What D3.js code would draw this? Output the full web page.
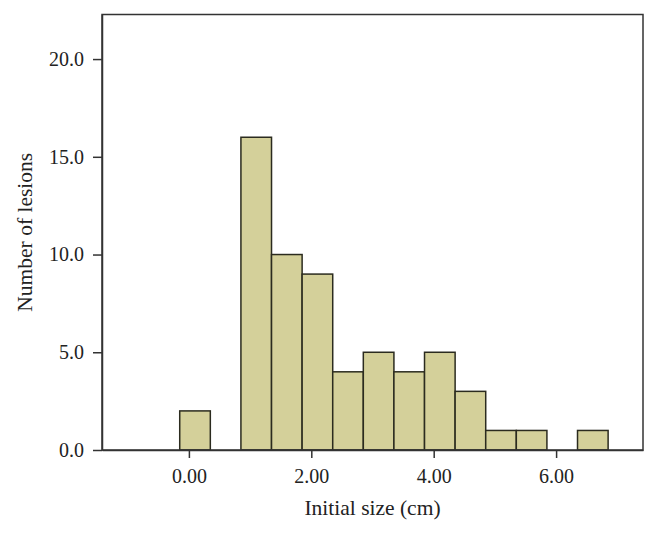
<!DOCTYPE html>
<html>
<head>
<meta charset="utf-8">
<script src="https://cdn.jsdelivr.net/npm/d3@7"></script>
<style>
  body { margin: 0; background: #fff; }
  text { font-family: "Liberation Serif", "DejaVu Serif", serif; fill: #222; }
</style>
</head>
<body>
<div id="chart"></div>
<script>
// histogram bins (cm) and counts
const binStarts = [-0.15, 0.85, 1.35, 1.85, 2.35, 2.85, 3.35, 3.85, 4.35, 4.85, 5.35, 6.35];
const binWidth = 0.5;
const counts = [2, 16, 10, 9, 4, 5, 4, 5, 3, 1, 1, 1];
const xTicks = [0, 2, 4, 6];
const yTicks = [0, 5, 10, 15, 20];

const width = 658, height = 533;
const margin = { top: 14.5, right: 15, bottom: 83, left: 102 };

const svg = d3.select("#chart").append("svg")
  .attr("width", width)
  .attr("height", height);

const x = d3.scaleLinear()
  .domain([-1.42, 7.42])
  .range([margin.left, width - margin.right]);

const y = d3.scaleLinear()
  .domain([0, 22.28])
  .range([height - margin.bottom, margin.top]);

const bins = binStarts.map((s, i) => ({ x0: s, x1: s + binWidth, n: counts[i] }));

// bars
svg.append("g")
  .selectAll("rect")
  .data(bins)
  .enter()
  .append("rect")
  .attr("x", d => x(d.x0))
  .attr("y", d => y(d.n))
  .attr("width", d => x(d.x1) - x(d.x0))
  .attr("height", d => y(0) - y(d.n))
  .attr("fill", "#d4d09a")
  .attr("stroke", "#2b2b1f")
  .attr("stroke-width", 1.5);

// frame
svg.append("rect")
  .attr("x", margin.left)
  .attr("y", margin.top)
  .attr("width", width - margin.right - margin.left)
  .attr("height", height - margin.bottom - margin.top)
  .attr("fill", "none")
  .attr("stroke", "#333")
  .attr("stroke-width", 1.5);

// axes
const xAxis = svg.append("g")
  .attr("transform", `translate(0,${y(0)})`)
  .call(d3.axisBottom(x).tickValues(xTicks).tickFormat(d3.format(".2f"))
    .tickSize(8).tickSizeOuter(0).tickPadding(11));

const yAxis = svg.append("g")
  .attr("transform", `translate(${margin.left},0)`)
  .call(d3.axisLeft(y).tickValues(yTicks).tickFormat(d3.format(".1f"))
    .tickSize(9).tickSizeOuter(0).tickPadding(9));

[xAxis, yAxis].forEach(a => {
  a.select(".domain").attr("stroke", "#333").attr("stroke-width", 1.5);
  a.selectAll(".tick line").attr("stroke", "#333").attr("stroke-width", 1.5);
  a.selectAll(".tick text")
    .style("font-family", "Liberation Serif, DejaVu Serif, serif")
    .style("font-size", "20px")
    .attr("fill", "#222");
});

// axis titles
svg.append("text")
  .attr("x", (margin.left + width - margin.right) / 2)
  .attr("y", 515)
  .attr("text-anchor", "middle")
  .style("font-size", "21.5px")
  .text("Initial size (cm)");

svg.append("text")
  .attr("transform", `translate(32,${(margin.top + height - margin.bottom) / 2}) rotate(-90)`)
  .attr("text-anchor", "middle")
  .style("font-size", "21.5px")
  .text("Number of lesions");
</script>
</body>
</html>
